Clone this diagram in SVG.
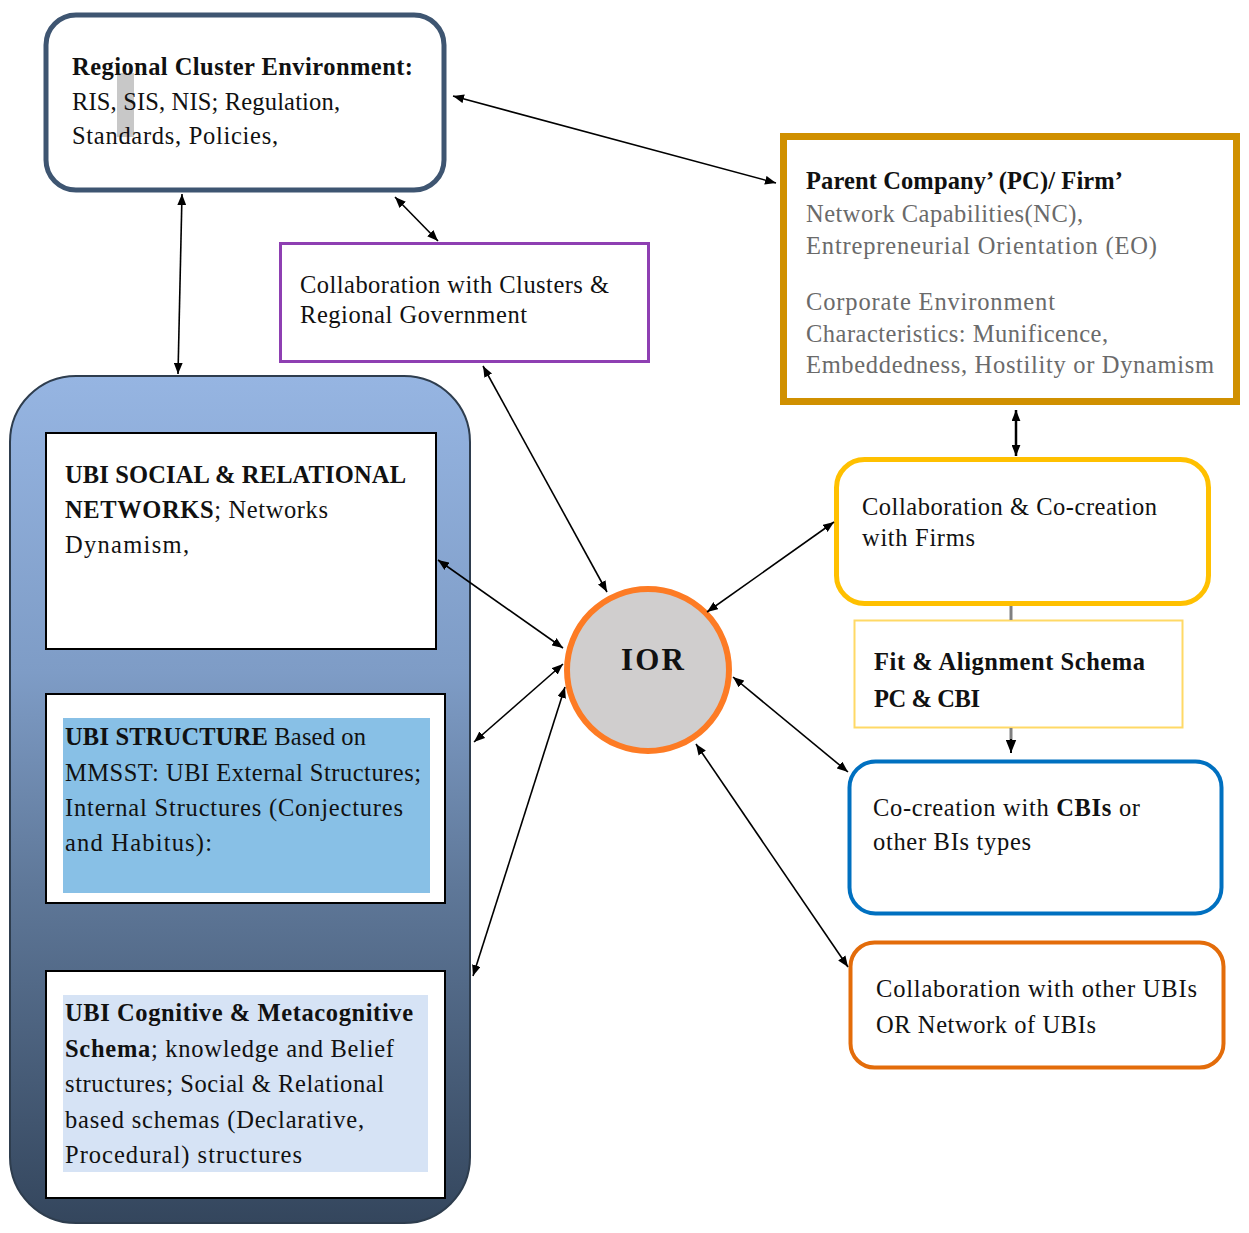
<svg xmlns="http://www.w3.org/2000/svg" width="1249" height="1233" viewBox="0 0 1249 1233">
<style>
.t{font-family:"Liberation Serif","Times New Roman",serif;font-size:24.5px;fill:#111}
.b{font-weight:bold}
.g{fill:#6a6a6a}
.c{stroke:#000;stroke-width:1.6;fill:none;marker-start:url(#ah);marker-end:url(#ah)}
</style>
<defs>
<marker id="ah" viewBox="0 0 10 8" refX="10" refY="4" markerWidth="11" markerHeight="9" markerUnits="userSpaceOnUse" orient="auto-start-reverse">
<path d="M0,0 L10,4 L0,8 z" fill="#000"/>
</marker>
<marker id="ae" viewBox="0 0 10 8" refX="10" refY="4" markerWidth="13" markerHeight="11" markerUnits="userSpaceOnUse" orient="auto">
<path d="M0,0 L10,4 L0,8 z" fill="#000"/>
</marker>
<linearGradient id="bg" x1="0" y1="0" x2="0" y2="1">
<stop offset="0" stop-color="#96b5e2"/>
<stop offset="0.35" stop-color="#7e9cc6"/>
<stop offset="0.6" stop-color="#5f7899"/>
<stop offset="1" stop-color="#34465d"/>
</linearGradient>
</defs>

<g id="regional-cluster">
<rect x="46" y="15" width="398" height="175" rx="30" fill="#fff" stroke="#3e5571" stroke-width="5"/>
<rect x="117" y="73" width="17" height="64" fill="#c8c8c8"/>
<text class="t b" x="72" y="75" textLength="341" lengthAdjust="spacing">Regional Cluster Environment:</text>
<text class="t" x="72" y="110" textLength="268" lengthAdjust="spacing">RIS, SIS, NIS; Regulation,</text>
<text class="t" x="72" y="144" textLength="206" lengthAdjust="spacing">Standards, Policies,</text>
</g>

<g id="parent-company">
<rect x="783.5" y="136.5" width="453" height="265" fill="#fff" stroke="#d09000" stroke-width="7"/>
<text class="t b" x="806" y="189" textLength="317" lengthAdjust="spacing">Parent Company’ (PC)/ Firm’</text>
<text class="t g" x="806" y="222" textLength="277" lengthAdjust="spacing">Network Capabilities(NC),</text>
<text class="t g" x="806" y="254" textLength="351" lengthAdjust="spacing">Entrepreneurial Orientation (EO)</text>
<text class="t g" x="806" y="310" textLength="249" lengthAdjust="spacing">Corporate Environment</text>
<text class="t g" x="806" y="342" textLength="302" lengthAdjust="spacing">Characteristics: Munificence,</text>
<text class="t g" x="806" y="373" textLength="408" lengthAdjust="spacing">Embeddedness, Hostility or Dynamism</text>
</g>

<g id="collab-clusters">
<rect x="280.5" y="243.5" width="368" height="118" fill="#fff" stroke="#8e3fb2" stroke-width="3"/>
<text class="t" x="300" y="293" textLength="309" lengthAdjust="spacing">Collaboration with Clusters &amp;</text>
<text class="t" x="300" y="323" textLength="227" lengthAdjust="spacing">Regional Government</text>
</g>

<g id="ubi-container">
<rect x="10" y="376" width="460" height="847" rx="66" fill="url(#bg)" stroke="#2e3d4e" stroke-width="2"/>
</g>

<g id="ubi-social">
<rect x="46" y="433" width="390" height="216" fill="#fff" stroke="#000" stroke-width="2"/>
<text class="t" x="65" y="483" textLength="341" lengthAdjust="spacing"><tspan class="b">UBI SOCIAL &amp; RELATIONAL</tspan></text>
<text class="t" x="65" y="518" textLength="263" lengthAdjust="spacing"><tspan class="b">NETWORKS</tspan>; Networks</text>
<text class="t" x="65" y="553" textLength="124" lengthAdjust="spacing">Dynamism,</text>
</g>

<g id="ubi-structure">
<rect x="46" y="694" width="399" height="209" fill="#fff" stroke="#000" stroke-width="2"/>
<rect x="63" y="718" width="367" height="175" fill="#88c0e6"/>
<text class="t" x="65" y="745" textLength="301" lengthAdjust="spacing"><tspan class="b">UBI STRUCTURE</tspan> Based on</text>
<text class="t" x="65" y="781" textLength="356" lengthAdjust="spacing">MMSST: UBI External Structures;</text>
<text class="t" x="65" y="816" textLength="338" lengthAdjust="spacing">Internal Structures (Conjectures</text>
<text class="t" x="65" y="851" textLength="147" lengthAdjust="spacing">and Habitus):</text>
</g>

<g id="ubi-cognitive">
<rect x="46" y="971" width="399" height="227" fill="#fff" stroke="#000" stroke-width="2"/>
<rect x="63" y="995" width="365" height="177" fill="#d6e3f5"/>
<text class="t" x="65" y="1021" textLength="348" lengthAdjust="spacing"><tspan class="b">UBI Cognitive &amp; Metacognitive</tspan></text>
<text class="t" x="65" y="1057" textLength="329" lengthAdjust="spacing"><tspan class="b">Schema</tspan>; knowledge and Belief</text>
<text class="t" x="65" y="1092" textLength="319" lengthAdjust="spacing">structures; Social &amp; Relational</text>
<text class="t" x="65" y="1128" textLength="299" lengthAdjust="spacing">based schemas (Declarative,</text>
<text class="t" x="65" y="1163" textLength="237" lengthAdjust="spacing">Procedural) structures</text>
</g>

<g id="ior">
<circle cx="648" cy="670" r="81" fill="#d0cece" stroke="#fd7b24" stroke-width="6"/>
<text class="t b" x="621" y="670" style="font-size:31px" textLength="63" lengthAdjust="spacing">IOR</text>
</g>

<g id="collab-firms">
<rect x="836.5" y="459.5" width="372" height="144" rx="28" fill="#fff" stroke="#ffc000" stroke-width="5"/>
<text class="t" x="862" y="515" textLength="295" lengthAdjust="spacing">Collaboration &amp; Co-creation</text>
<text class="t" x="862" y="546" textLength="113" lengthAdjust="spacing">with Firms</text>
</g>

<g id="fit-alignment">
<rect x="854.5" y="620.5" width="328" height="107" fill="#fff" stroke="#ffd966" stroke-width="2"/>
<text class="t b" x="874" y="670" textLength="271" lengthAdjust="spacing">Fit &amp; Alignment Schema</text>
<text class="t b" x="874" y="707" textLength="106" lengthAdjust="spacing">PC &amp; CBI</text>
</g>

<g id="cocreation-cbis">
<rect x="849.5" y="761.5" width="372" height="152" rx="26" fill="#fff" stroke="#0070c0" stroke-width="4"/>
<text class="t" x="873" y="816" textLength="267" lengthAdjust="spacing">Co-creation with <tspan class="b">CBIs</tspan> or</text>
<text class="t" x="873" y="850" textLength="158" lengthAdjust="spacing">other BIs types</text>
</g>

<g id="collab-ubis">
<rect x="850.5" y="942.5" width="373" height="125" rx="24" fill="#fff" stroke="#e36c0a" stroke-width="4"/>
<text class="t" x="876" y="997" textLength="321" lengthAdjust="spacing">Collaboration with other UBIs</text>
<text class="t" x="876" y="1033" textLength="220" lengthAdjust="spacing">OR Network of UBIs</text>
</g>

<g id="connectors">
<line class="c" x1="453" y1="96" x2="776" y2="183"/>
<line class="c" x1="182" y1="194" x2="178" y2="374"/>
<line class="c" x1="395" y1="197" x2="438" y2="241"/>
<line class="c" x1="483" y1="366" x2="607" y2="592"/>
<line class="c" x1="438" y1="560" x2="563" y2="648"/>
<line class="c" x1="474" y1="742" x2="563" y2="664"/>
<line class="c" x1="473" y1="976" x2="565" y2="687"/>
<line class="c" x1="707" y1="612" x2="834" y2="522"/>
<line class="c" x1="733" y1="677" x2="848" y2="772"/>
<line class="c" x1="696" y1="744" x2="848" y2="967"/>
<line class="c" x1="1016" y1="410" x2="1016" y2="456" style="stroke-width:2.5"/>
<line x1="1011" y1="606" x2="1011" y2="620" stroke="#808080" stroke-width="3"/>
<line x1="1011" y1="728" x2="1011" y2="741" stroke="#808080" stroke-width="3"/>
<line x1="1011" y1="739" x2="1011" y2="753" stroke="#000" stroke-width="2" marker-end="url(#ae)"/>
</g>
</svg>
